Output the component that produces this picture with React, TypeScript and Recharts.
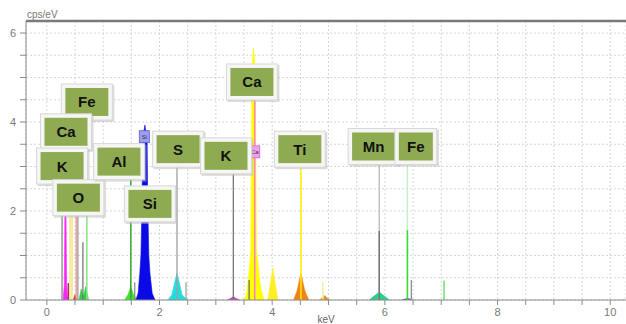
import React from 'react';
import {
  ComposedChart,
  Area,
  Scatter,
  XAxis,
  YAxis,
  CartesianGrid,
  ReferenceLine,
} from 'recharts';

// ---------- data (keV, cps/eV) ----------
const xTicks = [0, 0.5, 1, 1.5, 2, 2.5, 3, 3.5, 4, 4.5, 5, 5.5, 6, 6.5, 7, 7.5, 8, 8.5, 9, 9.5, 10];
const yTicks = [0, 0.5, 1, 1.5, 2, 2.5, 3, 3.5, 4, 4.5, 5, 5.5, 6];
const xMajorLabels = [0, 2, 4, 6, 8, 10];
const yMajorLabels = [0, 2, 4, 6];

const cKPeak = [[0.29, 0], [0.31, 0.35], [0.32, 1.9], [0.34, 1.9], [0.35, 0.35], [0.37, 0]];
const oRedPeak = [[0.47, 0], [0.5, 0.12], [0.53, 0]];
const lowGreenPeak = [[0.57, 0], [0.61, 0.25], [0.65, 0.08], [0.69, 0.3], [0.74, 0]];
const alPeak = [[1.38, 0], [1.44, 0.12], [1.49, 0.3], [1.54, 0.12], [1.6, 0]];
const siPeak = [[1.58, 0], [1.62, 0.15], [1.65, 0.6], [1.67, 1.0], [1.69, 2.2], [1.7, 3.6], [1.74, 3.93], [1.78, 3.6], [1.79, 2.2], [1.81, 1.0], [1.83, 0.6], [1.87, 0.15], [1.92, 0]];
const sPeak = [[2.15, 0], [2.22, 0.12], [2.27, 0.4], [2.31, 0.6], [2.35, 0.4], [2.4, 0.12], [2.47, 0.03], [2.5, 0]];
const kPeak = [[3.2, 0], [3.27, 0.04], [3.31, 0.08], [3.35, 0.04], [3.42, 0]];
const caKaPeak = [[3.5, 0], [3.55, 0.15], [3.58, 0.5], [3.6, 0.8], [3.62, 1.1], [3.63, 3.0], [3.64, 5.2], [3.67, 5.66], [3.7, 5.2], [3.71, 3.0], [3.72, 1.1], [3.75, 0.8], [3.78, 0.4], [3.82, 0.15], [3.86, 0]];
const caKbPeak = [[3.92, 0], [3.96, 0.3], [4.01, 0.72], [4.06, 0.3], [4.1, 0]];
const tiKaPeak = [[4.38, 0], [4.44, 0.2], [4.51, 0.6], [4.58, 0.2], [4.65, 0]];
const tiKbPeak = [[4.84, 0], [4.93, 0.1], [5.02, 0]];
const mnPeak = [[5.72, 0], [5.82, 0.1], [5.9, 0.18], [5.98, 0.1], [6.08, 0]];
const fePeak = [[6.3, 0], [6.4, 0.04], [6.5, 0]];

const markerEnergies = [0.27, 0.385, 0.43, 0.52, 0.55, 0.64, 0.71, 1.49, 1.56, 2.31, 2.47, 3.31, 3.59, 3.69, 4.51, 4.9, 5.9, 5.9, 6.4, 6.4, 6.47, 7.05];
const markerHeights = [2.7, 0.38, 2.02, 2.02, 2.02, 1.3, 2.65, 2.74, 0.4, 3.08, 0.4, 2.92, 0.45, 4.58, 3.08, 0.4, 3.15, 1.55, 3.15, 1.57, 0.45, 0.43];

const labelNames = ['Fe', 'Ca', 'K', 'O', 'Al', 'Si', 'S', 'K', 'Ca', 'Ti', 'Mn', 'Fe'];
const labelEnergies = [0.71, 0.34, 0.27, 0.56, 1.28, 1.83, 2.33, 3.18, 3.64, 4.49, 5.8, 6.55];
const labelHeights = [4.45, 3.78, 3.01, 2.3, 3.11, 2.16, 3.39, 3.24, 4.9, 3.39, 3.45, 3.45];

const tagNames = ['Si', 'Ca'];
const tagEnergies = [1.73, 3.69];
const tagHeights = [3.67, 3.33];

// ---------- styles ----------
const peakSeries = [
  { data: cKPeak, color: '#ff22ff' },
  { data: oRedPeak, color: '#e03020' },
  { data: lowGreenPeak, color: '#33cc44' },
  { data: alPeak, color: '#44dd33' },
  { data: siPeak, color: '#0a0ae6' },
  { data: sPeak, color: '#22dde0' },
  { data: kPeak, color: '#cc33cc' },
  { data: caKaPeak, color: '#ffff00' },
  { data: caKbPeak, color: '#ffee22' },
  { data: tiKaPeak, color: '#f08418' },
  { data: tiKbPeak, color: '#e8902a' },
  { data: mnPeak, color: '#2ccf86' },
  { data: fePeak, color: '#5050c8' },
];
const markerColors = ['#888888', '#993366', '#f6eca0', '#f39090', '#9a9a9a', '#777777', '#80e880', '#33aa33', '#888888', '#a0a0a0', '#999999', '#777777', '#666666', '#ff80c8', '#ffee00', '#f4eca0', '#b8b8b8', '#777777', '#c4f0c4', '#33dd33', '#888888', '#55dd55'];
const markerWidths = [1.3, 2, 4, 1.3, 1.3, 1.3, 1.5, 1.5, 1.2, 1.3, 1.2, 1.3, 1.2, 1.5, 1.5, 1.5, 1.3, 1.5, 1.5, 1.5, 1.2, 1.3];

const toPoints = (pairs: number[][]) => pairs.map(([x, y]) => ({ x, y }));
const labelData = labelNames.map((label, i) => ({ x: labelEnergies[i], y: labelHeights[i], label, idx: i }));
const tagData = tagNames.map((label, i) => ({ x: tagEnergies[i], y: tagHeights[i], label, idx: i }));

const GREEN = '#8eab52';
const FONT = "'Liberation Sans', Arial, sans-serif";

const LabelBox = (props: any) => {
  const { cx, cy, payload } = props;
  if (cx == null || cy == null) return null;
  const w = payload.idx === 11 ? 34 : 43;
  const h = 28;
  const x = cx - w / 2;
  const y = cy - h / 2;
  return (
    <g>
      <rect x={x - 3} y={y - 3} width={w + 9} height={h + 9} fill="#bdbdbd" opacity={0.55} />
      <rect x={x - 4} y={y - 4} width={w + 8} height={h + 8} fill="#f6f6f4" stroke="#d8d8d8" strokeWidth={1} />
      <rect x={x} y={y} width={w} height={h} fill={GREEN} />
      <text x={cx} y={cy + 5.5} textAnchor="middle" fontFamily={FONT} fontWeight="bold" fontSize={15} fill="#111">
        {payload.label}
      </text>
    </g>
  );
};

const TagBox = (props: any) => {
  const { cx, cy, payload } = props;
  if (cx == null || cy == null) return null;
  const fill = payload.idx === 0 ? '#9d9df2' : '#f2a0ee';
  const stroke = payload.idx === 0 ? '#5a5ad0' : '#d060d0';
  return (
    <g>
      <rect x={cx - 5} y={cy - 6} width={10} height={12} fill={fill} stroke={stroke} strokeWidth={0.8} />
      <text x={cx} y={cy + 2.5} textAnchor="middle" fontSize={6} fontFamily={FONT} fill="#333">
        {payload.label}
      </text>
    </g>
  );
};

const tickStyle = { fill: '#7a7a7a', fontSize: 11, fontFamily: FONT };

export default function App() {
  return (
    <div style={{ position: 'absolute', left: 0, top: 0, width: 626, height: 324, background: '#fff' }}>
      <ComposedChart width={626} height={324} margin={{ top: 21, right: 0, bottom: 0, left: 0 }}>
        <CartesianGrid stroke="#d6d6d6" strokeDasharray="2 2" />
        <XAxis
          type="number"
          dataKey="x"
          domain={[-0.37, 10.28]}
          ticks={xTicks}
          interval={0}
          allowDataOverflow
          height={24}
          tickSize={5}
          tickMargin={3}
          stroke="#8a8a8a"
          tick={tickStyle}
          tickFormatter={(v: number) => (xMajorLabels.includes(v) ? String(v) : '')}
          label={{ value: 'keV', position: 'insideBottom', offset: 1, fill: '#666', fontSize: 10, fontFamily: FONT }}
        />
        <YAxis
          type="number"
          dataKey="y"
          domain={[0, 6.27]}
          ticks={yTicks}
          interval={0}
          allowDataOverflow
          width={26}
          tickSize={6}
          tickMargin={4}
          stroke="#8a8a8a"
          tick={tickStyle}
          tickFormatter={(v: number) => (yMajorLabels.includes(v) ? String(v) : '')}
          label={{
            value: 'cps/eV',
            content: (p: any) => {
              const vb = p.viewBox || {};
              return (
                <text x={(vb.x || 0) + (vb.width || 0) + 1} y={(vb.y || 0) - 3} fontSize={10} fill="#777" fontFamily={FONT}>
                  cps/eV
                </text>
              );
            },
          }}
        />
        <ReferenceLine y={6.27} stroke="#7a7a7a" strokeWidth={2.5} />
        {peakSeries.map((s, i) => (
          <Area
            key={'p' + i}
            data={toPoints(s.data)}
            dataKey="y"
            type="linear"
            stroke={s.color}
            strokeWidth={0.6}
            fill={s.color}
            fillOpacity={1}
            baseValue={0}
            isAnimationActive={false}
            dot={false}
            activeDot={false}
          />
        ))}
        {markerEnergies.map((e, i) => (
          <ReferenceLine
            key={'m' + i}
            segment={[{ x: e, y: 0 }, { x: e, y: markerHeights[i] }]}
            stroke={markerColors[i]}
            strokeWidth={markerWidths[i]}
          />
        ))}
        <Scatter data={tagData} dataKey="y" shape={TagBox} isAnimationActive={false} />
        <Scatter data={labelData} dataKey="y" shape={LabelBox} isAnimationActive={false} />
      </ComposedChart>
    </div>
  );
}
